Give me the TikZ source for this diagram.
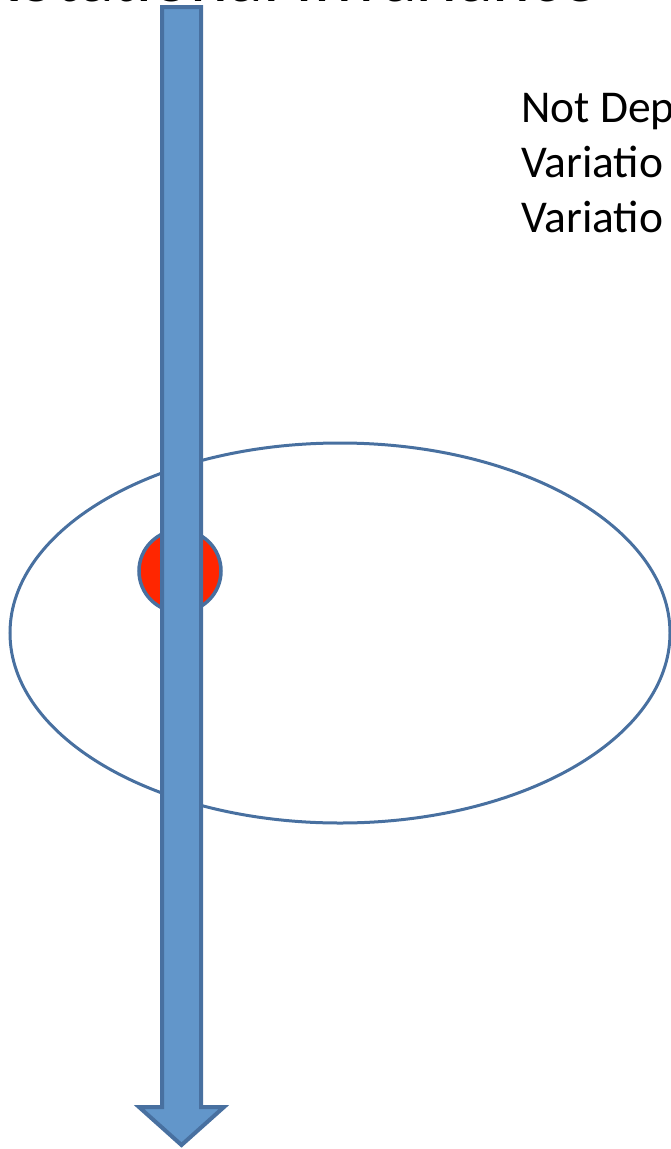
\documentclass[tikz,border=0pt]{standalone}
\usepackage{fontspec}
\setmainfont{Carlito}
\definecolor{shaftfill}{RGB}{98,150,202}
\definecolor{edgeblue}{RGB}{72,112,160}
\definecolor{dotred}{RGB}{255,38,0}
\tikzset{
  shaft/.style={fill=shaftfill,draw=edgeblue,line width=4pt,line join=miter},
  orbit/.style={draw=edgeblue,line width=3pt},
  dot/.style={fill=dotred,draw=edgeblue,line width=3.5pt},
  label/.style={anchor=base west,inner sep=0pt,font=\fontsize{45.5}{56}\selectfont},
}
\begin{document}
\begin{tikzpicture}[x=1pt,y=1pt]
\useasboundingbox (0,0) rectangle (671,-1149);
\clip (0,0) rectangle (671,-1149);
% cut-off title
\node[anchor=base west,inner sep=0pt,font=\fontsize{72}{80}\selectfont] (title) at (-20,-1) {Rotational Invariance};
% orbit ellipse
\draw[orbit] (340,-633) ellipse [x radius=330, y radius=190];
% red dot
\draw[dot] (180,-571) circle [radius=41];
% axis arrow
\draw[shaft] (162,-7) -- (201,-7) -- (201,-1107) -- (224,-1107) -- (181.5,-1145)
  -- (139,-1107) -- (162,-1107) -- cycle;
% text lines
\node[label] (l1) at (521,-122) {Not Dep};
\node[label] (l2) at (521,-177) {Variatio};
\node[label] (l3) at (521,-232) {Variatio};
\end{tikzpicture}
\end{document}
